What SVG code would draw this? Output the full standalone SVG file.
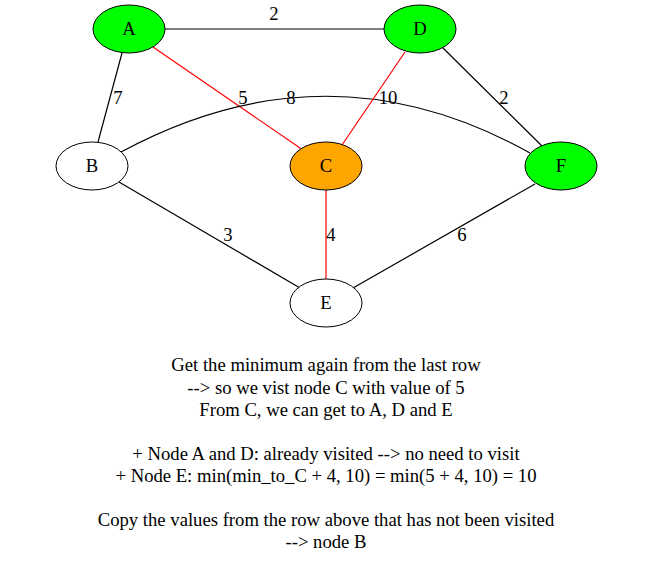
<svg xmlns="http://www.w3.org/2000/svg" width="653" height="587" viewBox="0 0 653 587">
<style>
.n ellipse{stroke:#000;stroke-width:1}
.e{fill:none;stroke:#000;stroke-width:1.2}
.r{stroke:#ff0000}
text{font-family:"Liberation Serif","Times New Roman",serif;font-size:18.67px;fill:#000}
.c{text-anchor:middle}
.t{text-anchor:middle}
</style>
<rect width="653" height="587" fill="#fff"/>
<g id="connectors">
<path class="e" d="M165,29 L384,29"/>
<path class="e" d="M122,53 L98,142"/>
<path class="e r" d="M153,47 L303,150"/>
<path class="e" d="M121,152 Q328,40 530,153"/>
<path class="e r" d="M405,52 L342,145"/>
<path class="e" d="M442,47 L543,147"/>
<path class="e" d="M119,182 L300,288"/>
<path class="e r" d="M326,190 L326,279"/>
<path class="e" d="M535,184 L353,288"/>
<text class="c" x="274" y="20">2</text>
<text class="c" x="118" y="104">7</text>
<text class="c" x="243" y="104">5</text>
<text class="c" x="291" y="104">8</text>
<text class="c" x="388" y="104">10</text>
<text class="c" x="504" y="104">2</text>
<text class="c" x="228" y="241">3</text>
<text class="c" x="331" y="241">4</text>
<text class="c" x="462" y="241">6</text>
</g>
<g id="node-A" class="n"><ellipse cx="129" cy="29" rx="36" ry="24" fill="#00ff00"/><text class="c" x="129" y="35">A</text></g>
<g id="node-D" class="n"><ellipse cx="420" cy="29" rx="36" ry="24" fill="#00ff00"/><text class="c" x="420" y="35">D</text></g>
<g id="node-B" class="n"><ellipse cx="92" cy="166" rx="36" ry="24" fill="#fff"/><text class="c" x="92" y="172">B</text></g>
<g id="node-C" class="n"><ellipse cx="326" cy="166" rx="36" ry="24" fill="#ffa500"/><text class="c" x="326" y="172">C</text></g>
<g id="node-F" class="n"><ellipse cx="561" cy="166" rx="36" ry="24" fill="#00ff00"/><text class="c" x="561" y="172">F</text></g>
<g id="node-E" class="n"><ellipse cx="326" cy="303" rx="36" ry="24" fill="#fff"/><text class="c" x="326" y="309">E</text></g>
<g id="caption">
<text class="t" x="326" y="371">Get the minimum again from the last row</text>
<text class="t" x="326" y="394">--&gt; so we vist node C with value of 5</text>
<text class="t" x="326" y="416">From C, we can get to A, D and E</text>
<text class="t" x="326" y="460">+ Node A and D: already visited --&gt; no need to visit</text>
<text class="t" x="326" y="482">+ Node E: min(min_to_C + 4, 10) = min(5 + 4, 10) = 10</text>
<text class="t" x="326" y="526">Copy the values from the row above that has not been visited</text>
<text class="t" x="326" y="548">--&gt; node B</text>
</g>
</svg>
